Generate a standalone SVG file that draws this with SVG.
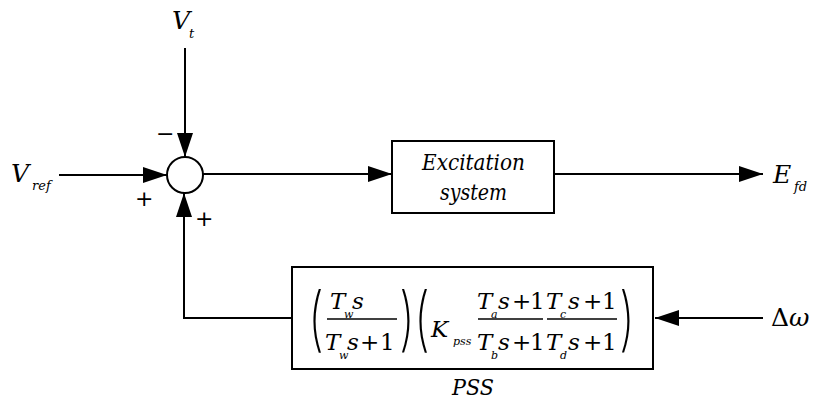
<svg xmlns="http://www.w3.org/2000/svg" width="816" height="403" viewBox="0 0 816 403" font-family="DejaVu Serif, serif">
  <style>
    .ln { stroke: #000; stroke-width: 2; fill: none; }
    .arr { marker-end: url(#head); }
    .box { stroke: #000; stroke-width: 2; fill: #fff; }
    .bar { stroke: #000; stroke-width: 1.3; }
    text { fill: #000; }
    .it { font-style: italic; }
    .big { font-size: 25px; }
    .lbl { font-size: 22px; font-style: italic; }
    .sub { font-size: 13px; font-style: italic; }
    .f { font-size: 23px; }
    .fs { font-size: 11px; font-style: italic; }
    .par { font-family: Inter, "DejaVu Sans", sans-serif; font-weight: 200; font-size: 20px; }
    .sgn { font-family: "DejaVu Sans", sans-serif; font-size: 22px; }
  </style>
  <defs>
    <marker id="head" markerUnits="userSpaceOnUse" markerWidth="24" markerHeight="16" refX="24" refY="8" orient="auto">
      <path d="M0,0 L24,8 L0,16 z" fill="#000"/>
    </marker>
  </defs>

  <rect width="816" height="403" fill="#fff"/>

  <!-- connectors -->
  <g id="connectors">
    <line class="ln arr" x1="185" y1="48" x2="185" y2="157"/>
    <line class="ln arr" x1="59" y1="175" x2="167" y2="175"/>
    <polyline class="ln arr" points="292,318 184,318 184,193"/>
    <line class="ln arr" x1="203" y1="174" x2="392" y2="174"/>
    <line class="ln arr" x1="554" y1="174" x2="763" y2="174"/>
    <line class="ln arr" x1="763" y1="318" x2="655" y2="318"/>
  </g>

  <!-- input / output signal labels -->
  <g id="vt">
    <text class="it big" x="172" y="29">V</text>
    <text class="sub" x="189" y="38">t</text>
  </g>
  <g id="vref">
    <text class="it big" x="11" y="182">V</text>
    <text class="sub" x="32" y="190">ref</text>
  </g>
  <g id="efd">
    <text class="it big" x="773" y="183">E</text>
    <text class="sub" x="794" y="191">fd</text>
  </g>
  <g id="domega">
    <text class="big" x="771" y="326">Δ<tspan class="it">ω</tspan></text>
  </g>

  <!-- summing junction with signs -->
  <g id="sum">
    <circle class="box" cx="185" cy="175" r="18"/>
    <text class="sgn" x="156" y="141">−</text>
    <text class="sgn" x="135" y="206">+</text>
    <text class="sgn" x="195" y="226">+</text>
  </g>

  <!-- excitation system block -->
  <g id="excitation">
    <rect class="box" x="392" y="141" width="162" height="72"/>
    <text class="lbl" x="422" y="170" textLength="103" lengthAdjust="spacingAndGlyphs">Excitation</text>
    <text class="lbl" x="440" y="200" textLength="67" lengthAdjust="spacingAndGlyphs">system</text>
  </g>

  <!-- power system stabilizer block -->
  <g id="pss">
    <rect class="box" x="292" y="267" width="361" height="102"/>
    <text class="lbl" x="452" y="395" textLength="42" lengthAdjust="spacingAndGlyphs">PSS</text>

    <!-- washout term -->
    <text class="par" transform="translate(308,343) scale(2.4,3.5)">(</text>
    <text class="it f" x="330" y="309">T</text>
    <text class="fs" x="344" y="318">w</text>
    <text class="it f" x="352" y="309">s</text>
    <line class="bar" x1="327" y1="319" x2="397" y2="319"/>
    <text class="it f" x="325" y="350">T</text>
    <text class="fs" x="339" y="359">w</text>
    <text class="it f" x="347" y="350">s</text>
    <text class="f" x="360" y="350">+</text>
    <text class="f" x="380" y="350">1</text>
    <text class="par" transform="translate(399,343) scale(2.4,3.5)">)</text>

    <!-- gain and lead-lag terms -->
    <text class="par" transform="translate(414,343) scale(2.4,3.5)">(</text>
    <text class="it f" x="431" y="337">K</text>
    <text class="fs" x="453" y="345">pss</text>

    <text class="it f" x="477" y="309">T</text>
    <text class="fs" x="491" y="318">a</text>
    <text class="it f" x="498" y="309">s</text>
    <text class="f" x="512" y="309">+</text>
    <text class="f" x="530" y="309">1</text>
    <line class="bar" x1="478" y1="319" x2="543" y2="319"/>
    <text class="it f" x="477" y="350">T</text>
    <text class="fs" x="491" y="359">b</text>
    <text class="it f" x="498" y="350">s</text>
    <text class="f" x="512" y="350">+</text>
    <text class="f" x="530" y="350">1</text>

    <text class="it f" x="546" y="309">T</text>
    <text class="fs" x="560" y="318">c</text>
    <text class="it f" x="568" y="309">s</text>
    <text class="f" x="583" y="309">+</text>
    <text class="f" x="602" y="309">1</text>
    <line class="bar" x1="547" y1="319" x2="617" y2="319"/>
    <text class="it f" x="546" y="350">T</text>
    <text class="fs" x="560" y="359">d</text>
    <text class="it f" x="568" y="350">s</text>
    <text class="f" x="583" y="350">+</text>
    <text class="f" x="602" y="350">1</text>
    <text class="par" transform="translate(619,343) scale(2.4,3.5)">)</text>
  </g>
</svg>
